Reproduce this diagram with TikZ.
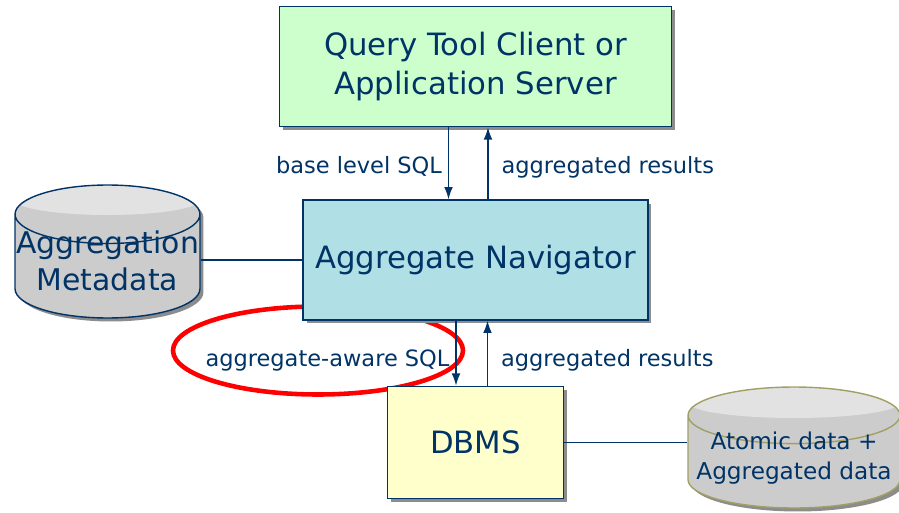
\documentclass[tikz,border=0pt]{standalone}
\usepackage{fontspec}
\setmainfont{DejaVu Sans}
\usetikzlibrary{shapes,positioning,calc,arrows.meta,shadows}

\definecolor{navy}{RGB}{0,51,102}
\definecolor{clientgreen}{RGB}{204,255,204}
\definecolor{navblue}{RGB}{176,223,230}
\definecolor{dbmsyellow}{RGB}{255,255,204}
\definecolor{diskgray}{RGB}{204,204,204}
\definecolor{disktop}{RGB}{226,226,226}
\definecolor{olive}{RGB}{160,160,100}

% two lines of text, pushed down inside a cylinder
\newcommand{\disktext}[3]{\raisebox{-#1}[0pt][0pt]{\begin{tabular}{@{}c@{}}#2\\#3\end{tabular}}}

\begin{document}
\begin{tikzpicture}[
    x=0.02cm, y=-0.02cm,
    every node/.style={text=navy},
    shade/.style={drop shadow={shadow xshift=0.07cm,shadow yshift=-0.07cm,fill=black!45,opacity=1}},
    box/.style={rectangle,draw=navy,line width=0.8pt,align=center,shade,font=\fontsize{17.5}{22}\selectfont},
    disk/.style={cylinder,shape border rotate=90,draw=navy,line width=0.8pt,
        fill=diskgray,inner sep=0pt,anchor=shape center,shade},
    % lighter lid on top of a cylinder, filled under its text
    lid/.style={path picture={
        \fill [disktop] let \p1=(path picture bounding box.west), \p2=(path picture bounding box.east),
            \p3=(path picture bounding box.north) in ({\x3},{\y3-#1}) ellipse [x radius={0.5*(\x2-\x1)}, y radius=#1];}},
    arr/.style={-{Latex[length=7pt,width=5pt]},navy,line width=0.8pt},
    link/.style={navy,line width=0.8pt},
    lbl/.style={font=\fontsize{12.8}{15}\selectfont}
    ]
    \useasboundingbox (0,0) rectangle (899,513);

    % the red ring sits under the boxes
    \draw[red,line width=2.6pt] (318,350.5) ellipse [x radius=145, y radius=44];

    \node [box,fill=navblue,minimum width=6.9cm,minimum height=2.4cm](nav) at (475.5,260) {Aggregate Navigator};
    \node [box,fill=clientgreen,minimum width=7.84cm,minimum height=2.4cm](client) [above=1.44cm of nav] {Query Tool Client or\\Application Server};
    \node [box,fill=dbmsyellow,minimum width=3.52cm,minimum height=2.24cm](dbms) [below=1.3cm of nav] {DBMS};
    \node [disk,aspect=0.32,lid=0.3cm,minimum width=3.7cm,minimum height=2.66cm,font=\fontsize{17}{21}\selectfont](meta) at (107.5,251.5) {\disktext{3.2pt}{Aggregation}{Metadata}};
    \node [disk,draw=olive,aspect=0.29,lid=0.31cm,minimum width=4.24cm,minimum height=2.42cm,font=\fontsize{13.2}{17}\selectfont](atomic) at (794,447.5) {\disktext{1.2pt}{Atomic data +}{Aggregated data}};

    \draw [arr] ([xshift=-0.54cm]client.south) -- node[lbl,left,yshift=-2pt] {base level SQL} ([xshift=-0.54cm]nav.north);
    \draw [arr] ([xshift=0.25cm]nav.north) -- node[lbl,right,xshift=4pt,yshift=-2pt] {aggregated results} ([xshift=0.25cm]client.south);
    \draw [arr] ([xshift=-0.39cm]nav.south) -- node[lbl,left,yshift=-4pt] {aggregate-aware SQL} ([xshift=-0.39cm]dbms.north);
    \draw [arr] ([xshift=0.24cm]dbms.north) -- node[lbl,right,xshift=4pt,yshift=-4pt] {aggregated results} ([xshift=0.24cm]nav.south);
    \draw [link] (meta.east|-nav.west) -- (nav.west);
    \draw [link] (dbms.east) -- (atomic.west|-dbms.east);
\end{tikzpicture}
\end{document}
